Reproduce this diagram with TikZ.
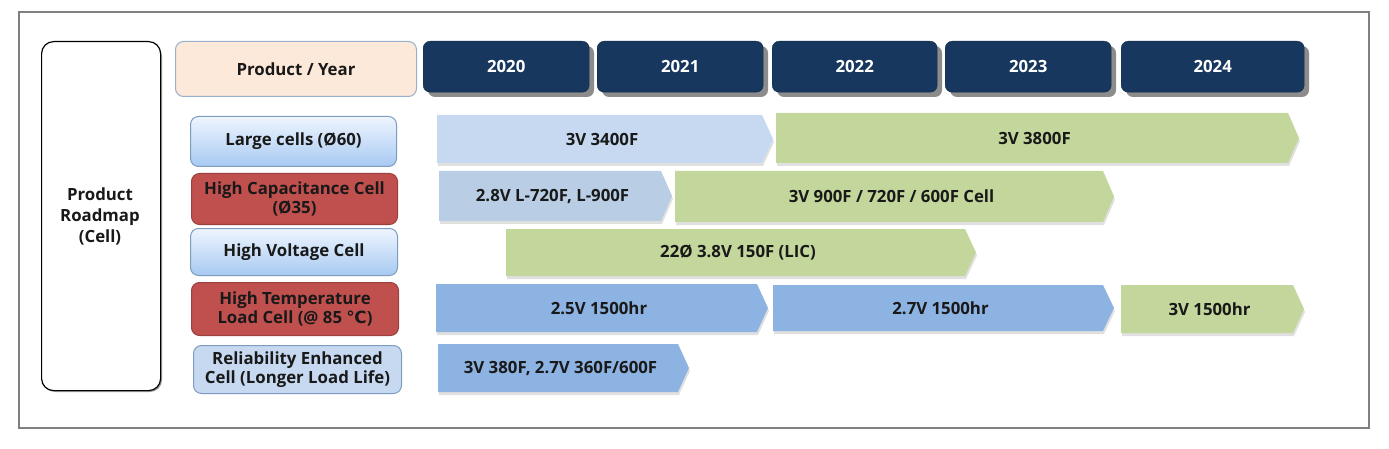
\documentclass[tikz,border=0pt]{standalone}
\usepackage{fontspec}
\setmainfont{Open Sans}
\newfontfamily\symfont{DejaVu Sans}
\definecolor{navy}{HTML}{17375E}
\definecolor{peach}{HTML}{FCE9DA}
\definecolor{lblue}{HTML}{C6D9F1}
\definecolor{mblue}{HTML}{B9CDE5}
\definecolor{dblue}{HTML}{8DB3E2}
\definecolor{lgreen}{HTML}{C3D69B}
\definecolor{redc}{HTML}{C0504D}
\definecolor{frameg}{HTML}{808080}
\definecolor{gtop}{HTML}{EEF5FE}
\definecolor{gbot}{HTML}{A7C9F2}
\definecolor{lborder}{HTML}{7E9CC0}
\tikzset{
  txt/.style={font=\fontsize{16.8}{19.5}\selectfont\bfseries, align=center, text=black!90},
  yearbox/.style={txt, text=white, fill=navy, draw=navy!80!black, rounded corners=7pt, anchor=north west, inner sep=0pt},
  bluelab/.style={txt, rounded corners=8pt, draw=lborder, line width=1pt, top color=gtop, bottom color=gbot, anchor=north west, inner sep=0pt},
  redlab/.style={txt, rounded corners=8pt, draw=redc!80!black, line width=1pt, fill=redc, anchor=north west, inner sep=0pt},
  rellab/.style={txt, rounded corners=8pt, draw=lborder, line width=1pt, fill=lblue, anchor=north west, inner sep=0pt},
  arrtext/.style={txt},
}
\newcommand\rmarrow[7]{%
  \fill[black, opacity=0.12] ({#2+1},{#4+3}) -- ({#3-10},{#4+3}) -- ({#3+1},{(#4+#5)/2+3}) -- ({#3-10},{#5+3}) -- ({#2+1},{#5+3}) -- cycle;
  \fill[#6] (#2,#4) -- ({#3-11},#4) -- (#3,{(#4+#5)/2}) -- ({#3-11},#5) -- (#2,#5) -- cycle;
  \node[arrtext] (#1) at ({(#2+#3-6)/2},{(#4+#5)/2}) {#7};
}
\begin{document}
\begin{tikzpicture}[x=1pt, y=-1pt]
\useasboundingbox (0,0) rectangle (1389,449);
\fill[white] (0,0) rectangle (1389,449);
% outer frame
\draw[frameg, line width=2.5pt] (19,12) rectangle (1369,428);
% left box
\fill[black!40, rounded corners=12pt] (43,44) rectangle (162,392);
\node[txt, draw=black, line width=1.2pt, fill=white, rounded corners=12pt, anchor=north west, minimum width=119pt, minimum height=349pt, inner sep=0pt] (roadmap) at (41,41) {};
\node[txt, font=\fontsize{16.8}{21}\selectfont\bfseries] (roadmaptxt) at (100,216) {Product\\Roadmap\\(Cell)};
% product / year
\node[txt, draw=lborder!80, line width=1pt, fill=peach, rounded corners=8pt, anchor=north west, minimum width=241pt, minimum height=55pt, inner sep=0pt] (py) at (175,41) {Product / Year};
% years with shadows
\foreach \x/\w/\y/\n in {423/166/2020/y2020, 597/166/2021/y2021, 772/165/2022/y2022, 945/166/2023/y2023, 1121/183/2024/y2024}{
  \fill[black!45, rounded corners=7pt] (\x+5,46) rectangle (\x+\w+5,97);
  \node[yearbox, minimum width=\w pt, minimum height=51pt] (\n) at (\x,41) {\y};
}
% row labels
\node[bluelab, minimum width=206pt, minimum height=50pt] (large) at (190,116) {Large cells (Ø60)};
\node[redlab, minimum width=206pt, minimum height=51pt] (hcap) at (191,173) {High Capacitance Cell\\(Ø35)};
\node[bluelab, minimum width=207pt, minimum height=47pt] (hvolt) at (190,228) {High Voltage Cell};
\node[redlab, minimum width=207pt, minimum height=53pt] (htemp) at (191,282) {High Temperature\\Load Cell (@ 85 {\symfont ℃})};
\node[rellab, minimum width=208pt, minimum height=48pt] (rel) at (193,345) {Reliability Enhanced\\Cell (Longer Load Life)};
% arrows
\rmarrow{a1}{437}{773}{115}{163}{lblue}{3V 3400F}
\rmarrow{a2}{776}{1299}{113}{163}{lgreen}{3V 3800F}
\rmarrow{b1}{439}{672}{171}{221}{mblue}{2.8V L-720F, L-900F}
\rmarrow{b2}{675}{1114}{171}{222}{lgreen}{3V 900F / 720F / 600F Cell}
\rmarrow{c1}{506}{976}{229}{276}{lgreen}{22Ø 3.8V 150F (LIC)}
\rmarrow{d1}{436}{768}{284}{332}{dblue}{2.5V 1500hr}
\rmarrow{d2}{773}{1114}{285}{331}{dblue}{2.7V 1500hr}
\rmarrow{d3}{1121}{1304}{285}{333}{lgreen}{3V 1500hr}
\rmarrow{e1}{438}{689}{344}{392}{dblue}{3V 380F, 2.7V 360F/600F}
\end{tikzpicture}
\end{document}
